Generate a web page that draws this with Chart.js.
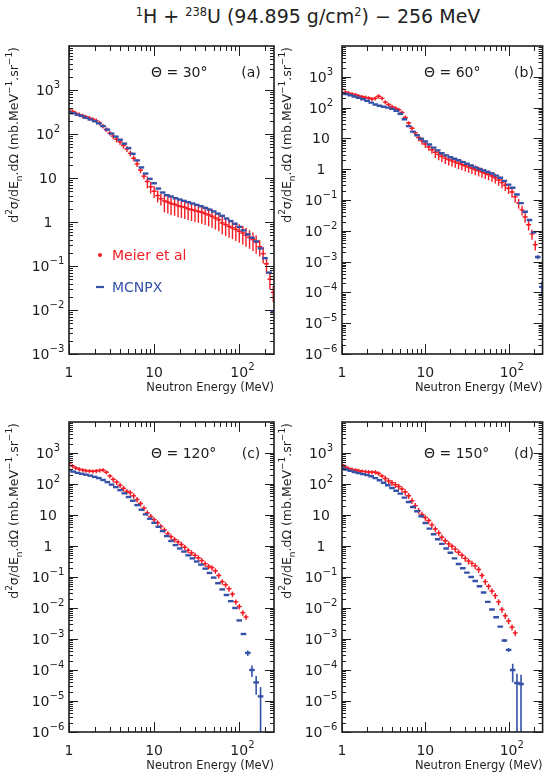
<!DOCTYPE html>
<html>
<head>
<meta charset="utf-8">
<script src="https://cdn.jsdelivr.net/npm/chart.js@4.4.0/dist/chart.umd.min.js"></script>
<style>
    body { margin: 0; background: #fff; width: 549px; height: 776px; position: relative; overflow: hidden; }
    #title { position: absolute; left: 58px; top: 5px; width: 500px; text-align: center;
             font: 19px "DejaVu Sans", sans-serif; color: #222; }
    #title sup { font-size: 60%; vertical-align: 0; position: relative; top: -0.65em; }
    canvas { position: absolute; left: 0; top: 0; }
</style>
</head>
<body>
<div id="title"><sup>1</sup>H + <sup>238</sup>U (94.895 g/cm<sup>2</sup>) &minus; 256 MeV</div>
<canvas id="pa" width="549" height="776"></canvas>
<canvas id="pb" width="549" height="776"></canvas>
<canvas id="pc" width="549" height="776"></canvas>
<canvas id="pd" width="549" height="776"></canvas>
<script>
// Neutron energies (MeV) of the Meier et al points and of the MCNPX bins
const meierE = [1.00, 1.10, 1.20, 1.32, 1.45, 1.58, 1.74, 1.91, 2.09, 2.29, 2.51, 2.75, 3.02, 3.31, 3.63,
    3.98, 4.37, 4.79, 5.25, 5.75, 6.31, 6.92, 7.59, 8.32, 9.12, 10.0, 11.0, 12.0, 13.2, 14.5, 15.8, 17.4,
    19.1, 20.9, 22.9, 25.1, 27.5, 30.2, 33.1, 36.3, 39.8, 43.7, 47.9, 52.5, 57.5, 63.1, 69.2, 75.9, 83.2,
    91.2, 100, 110, 120, 132, 145, 158, 174, 191, 209, 229, 251];
const mcnpxE = [1.00, 1.12, 1.26, 1.41, 1.58, 1.78, 2.00, 2.24, 2.51, 2.82, 3.16, 3.55, 3.98, 4.47, 5.01,
    5.62, 6.31, 7.08, 7.94, 8.91, 10.0, 11.2, 12.6, 14.1, 15.8, 17.8, 20.0, 22.4, 25.1, 28.2, 31.6, 35.5,
    39.8, 44.7, 50.1, 56.2, 63.1, 70.8, 79.4, 89.1, 100, 112, 126, 141, 158, 178, 200, 224, 251];

// (a) theta = 30 deg
const meierA = [355, 324, 295, 275, 257, 245, 229, 214, 200, 178, 151, 126, 105, 89.1, 75.9, 66.1, 55.0,
    45.7, 36.3, 28.2, 20.9, 15.1, 11.0, 8.32, 6.31, 5.01, 3.98, 3.39, 3.02, 2.82, 2.63, 2.51, 2.34, 2.24,
    2.14, 2.00, 1.91, 1.82, 1.74, 1.66, 1.55, 1.45, 1.35, 1.23, 1.12, 0.955, 0.871, 0.794, 0.741, 0.676,
    0.617, 0.562, 0.501, 0.447, 0.398, 0.347, 0.275, 0.191, 0.112, 0.0501, 0.0251];
const meierErrA = [0.12, 0.12, 0.12, 0.12, 0.12, 0.12, 0.12, 0.12, 0.12, 0.12, 0.12, 0.12, 0.12,
    0.15, 0.15, 0.15, 0.15, 0.15, 0.15, 0.15, 0.15, 0.15, 0.15, 0.3, 0.3, 0.3, 0.3, 0.3,
    0.45, 0.45, 0.45, 0.45, 0.45, 0.45, 0.45, 0.45, 0.45, 0.45, 0.45, 0.45, 0.45, 0.45,
    0.45, 0.45, 0.45, 0.45, 0.45, 0.45, 0.45, 0.45, 0.45, 0.45, 0.45, 0.45, 0.45, 0.45,
    0.4, 0.4, 0.4, 0.4, 0.4];
const mcnpxA = [316, 295, 275, 257, 234, 214, 195, 174, 151, 126, 102, 87.1, 74.1, 60.3, 47.9, 35.5,
    25.1, 17.4, 12.6, 9.55, 7.59, 5.75, 4.68, 4.07, 3.80, 3.47, 3.24, 3.02, 2.82, 2.63, 2.45, 2.29, 2.09,
    1.91, 1.74, 1.55, 1.38, 1.20, 1.05, 0.912, 0.776, 0.646, 0.525, 0.437, 0.363, 0.251, 0.151, 0.0708,
    0.00891];

// (b) theta = 60 deg
const meierB = [398, 316, 295, 275, 257, 240, 224, 214, 204, 191, 200, 234, 200, 151, 126, 107, 95.5,
    85.1, 69.2, 47.9, 31.6, 21.4, 15.1, 10.7, 8.32, 6.61, 5.25, 4.27, 3.55, 3.02, 2.63, 2.29, 2.04, 1.86,
    1.70, 1.55, 1.41, 1.29, 1.17, 1.07, 0.977, 0.891, 0.813, 0.741, 0.676, 0.603, 0.525, 0.447, 0.372,
    0.302, 0.240, 0.182, 0.126, 0.0794, 0.0479, 0.0282, 0.0158, 0.00794, 0.00355];
const meierErrB = [0.15, 0.15, 0.15, 0.15, 0.15, 0.15, 0.15, 0.15, 0.15, 0.15, 0.15, 0.15, 0.15,
    0.15, 0.15, 0.15, 0.15, 0.15, 0.15, 0.15, 0.15, 0.15, 0.15, 0.25, 0.25, 0.25, 0.25, 0.25,
    0.35, 0.35, 0.35, 0.35, 0.35, 0.35, 0.35, 0.35, 0.35, 0.35, 0.35, 0.35, 0.35, 0.35, 0.35, 0.35,
    0.35, 0.35, 0.35, 0.35, 0.35, 0.35, 0.35, 0.35, 0.35, 0.35, 0.35, 0.35, 0.35, 0.35, 0.35];
const mcnpxB = [295, 275, 251, 229, 209, 186, 166, 145, 126, 115, 107, 100, 91.2, 79.4, 63.1, 41.7,
    25.1, 16.6, 12.6, 9.77, 7.94, 6.31, 5.01, 4.07, 3.31, 2.82, 2.45, 2.19, 1.95, 1.70, 1.51, 1.32, 1.15,
    1.02, 0.912, 0.813, 0.724, 0.617, 0.525, 0.417, 0.316, 0.251, 0.151, 0.0794, 0.0417, 0.0224,
    0.00891, 0.00141, 0.000151];
const mcnpxErrB = [0, 0, 0, 0, 0, 0, 0, 0, 0, 0, 0, 0, 0, 0, 0, 0, 0, 0, 0, 0, 0, 0, 0, 0, 0,
    0, 0, 0, 0, 0, 0, 0, 0, 0, 0, 0, 0, 0, 0, 0, 0, 0, 0, 0, 0, 0, 0, 0.15, 0.5];

// (c) theta = 120 deg
const meierC = [457, 380, 331, 302, 282, 269, 263, 257, 263, 275, 282, 240, 182, 141, 115, 91.2, 72.4,
    57.5, 52.5, 41.7, 31.6, 23.4, 16.6, 11.7, 8.91, 7.08, 5.62, 4.27, 3.31, 2.51, 2.00, 1.62, 1.35, 1.12,
    0.912, 0.724, 0.603, 0.501, 0.417, 0.339, 0.269, 0.219, 0.200, 0.158, 0.112, 0.0708, 0.0562, 0.0417,
    0.0282, 0.0158, 0.0112, 0.00708, 0.00513];
const meierErrC = [0.15, 0.15, 0.15, 0.15, 0.15, 0.15, 0.15, 0.15, 0.15, 0.15, 0.15, 0.15, 0.15,
    0.2, 0.2, 0.2, 0.2, 0.2, 0.2, 0.2, 0.2, 0.2, 0.2, 0.2, 0.2, 0.2, 0.2, 0.2, 0.2, 0.2, 0.2, 0.2, 0.2,
    0.2, 0.2, 0.2, 0.2, 0.2, 0.2, 0.2, 0.2, 0.2, 0.2, 0.2, 0.2, 0.2, 0.2, 0.2, 0.2, 0.2, 0.2, 0.2, 0.2];
const mcnpxC = [282, 251, 229, 214, 200, 186, 170, 155, 135, 115, 95.5, 79.4, 63.1, 50.1, 38.0, 28.8,
    20.9, 14.8, 10.5, 7.59, 5.62, 4.17, 3.02, 2.09, 1.45, 1.07, 0.832, 0.661, 0.501, 0.398, 0.316, 0.251,
    0.186, 0.135, 0.0955, 0.0631, 0.0398, 0.0263, 0.0166, 0.0100, 0.00398, 0.00145, 0.000355, 0.0001,
    0.0000398, 0.0000141, null, null, null];
const mcnpxErrC = [0, 0, 0, 0, 0, 0, 0, 0, 0, 0, 0, 0, 0, 0, 0, 0, 0, 0, 0, 0, 0, 0, 0, 0, 0,
    0, 0, 0, 0, 0, 0, 0, 0, 0, 0, 0, 0, 0, 0, 0, 0, 0, 0.2, 0.4, 0.6, 0.99, 0, 0, 0];

// (d) theta = 150 deg
const meierD = [417, 355, 316, 295, 282, 269, 257, 251, 245, 240, 240, 219, 182, 151, 126, 110, 95.5,
    83.2, 69.2, 55.0, 41.7, 28.8, 20.0, 13.8, 10.5, 8.32, 6.61, 4.79, 3.55, 2.63, 1.91, 1.48, 1.17, 0.977,
    0.794, 0.631, 0.501, 0.398, 0.324, 0.275, 0.229, 0.174, 0.112, 0.0708, 0.0501, 0.0355, 0.0251, 0.0158,
    0.00891, 0.00562, 0.00380, 0.00240, 0.00158];
const meierErrD = [0.15, 0.15, 0.15, 0.15, 0.15, 0.15, 0.15, 0.15, 0.15, 0.15, 0.15, 0.15, 0.15,
    0.22, 0.22, 0.22, 0.22, 0.22, 0.22, 0.22, 0.22, 0.22, 0.22, 0.22, 0.22, 0.22, 0.22, 0.22, 0.22,
    0.22, 0.22, 0.22, 0.22, 0.22, 0.22, 0.22, 0.22, 0.22, 0.22, 0.22, 0.22, 0.22, 0.22, 0.22, 0.22,
    0.22, 0.22, 0.22, 0.22, 0.22, 0.22, 0.22, 0.22];
const mcnpxD = [331, 295, 269, 245, 224, 209, 195, 178, 155, 132, 110, 91.2, 74.1, 60.3, 49.0, 36.3,
    26.3, 18.2, 13.2, 9.12, 5.50, 3.63, 2.40, 1.66, 1.17, 0.832, 0.603, 0.398, 0.263, 0.191, 0.138, 0.100,
    0.0741, 0.0501, 0.0316, 0.0158, 0.00891, 0.00501, 0.00251, 0.000891, 0.000447, 0.0001, 0.000038,
    0.0000355, null, null, null, null, null];
const mcnpxErrD = [0, 0, 0, 0, 0, 0, 0, 0, 0, 0, 0, 0, 0, 0, 0, 0, 0, 0, 0, 0, 0, 0, 0, 0, 0,
    0, 0, 0, 0, 0, 0, 0, 0, 0, 0, 0, 0, 0, 0, 0.1, 0.15, 0.6, 0.99, 0.99, 0, 0, 0, 0, 0];

// Tick labels
const xTickValues = [1, 10, 100];
const xTickLabels = ['1', '10', '10^{2}'];
const yTickValuesA = [1e-3, 1e-2, 1e-1, 1, 10, 100, 1000];
const yTickLabelsA = ['10^{−3}', '10^{−2}', '10^{−1}', '1', '10', '10^{2}', '10^{3}'];
const yTickValuesB = [1e-6, 1e-5, 1e-4, 1e-3, 1e-2, 1e-1, 1, 10, 100, 1000];
const yTickLabelsB = ['10^{−6}', '10^{−5}', '10^{−4}', '10^{−3}', '10^{−2}', '10^{−1}', '1', '10', '10^{2}', '10^{3}'];

const RED = '#f41c24';
const BLUE = '#3552a8';
const INK = '#1e1e1e';
const FONT = '"DejaVu Sans", sans-serif';
const Y_TITLE = 'd^{2}σ/dE_{n}.dΩ (mb.MeV^{−1}.sr^{−1})';
const X_TITLE = 'Neutron Energy (MeV)';

// text with ^{..} superscripts and _{..} subscripts; y is the baseline
function richText(ctx, str, x, y, size, align) {
    const parts = [];
    const re = /([_^])\{([^}]*)\}/g;
    let last = 0, m;
    while ((m = re.exec(str))) {
        if (m.index > last) parts.push({ t: str.slice(last, m.index), k: 0 });
        parts.push({ t: m[2], k: m[1] === '^' ? 1 : -1 });
        last = re.lastIndex;
    }
    if (last < str.length) parts.push({ t: str.slice(last), k: 0 });
    const small = size * 0.72;
    let w = 0;
    parts.forEach(p => {
        ctx.font = (p.k ? small : size) + 'px ' + FONT;
        p.w = ctx.measureText(p.t).width;
        w += p.w;
    });
    let cx = x;
    if (align === 'center') cx = x - w / 2;
    else if (align === 'right') cx = x - w;
    else if (align === 'base') cx = x - parts[0].w / 2;
    ctx.textAlign = 'left';
    ctx.textBaseline = 'alphabetic';
    parts.forEach(p => {
        ctx.font = (p.k ? small : size) + 'px ' + FONT;
        const dy = p.k === 1 ? -size * 0.5 : p.k === -1 ? size * 0.28 : 0;
        ctx.fillText(p.t, cx, y + dy);
        cx += p.w;
    });
}

function decades(min, max) {
    const out = [];
    for (let k = Math.round(Math.log10(min)); Math.pow(10, k) < max; k++) out.push(Math.pow(10, k));
    return out;
}

// error bars drawn just before their own dataset, so the MCNPX dashes sit on top of the red bars
const errorBars = {
    id: 'errorBars',
    beforeDatasetDraw(chart, args) {
        const ds = chart.data.datasets[args.index];
        const { ctx, chartArea: ca } = chart;
        const y = chart.scales.y;
        ctx.save();
        ctx.beginPath();
        ctx.rect(ca.left, ca.top, ca.right - ca.left, ca.bottom - ca.top);
        ctx.clip();
        ctx.strokeStyle = ds.borderColor;
        ctx.lineWidth = ds.errWidth;
        args.meta.data.forEach((pt, i) => {
            const d = ds.data[i];
            if (d.err) {
                const top = y.getPixelForValue(d.y * (1 + d.err));
                const lo = d.y * (1 - d.err);
                const bot = lo > 0 ? Math.min(y.getPixelForValue(lo), ca.bottom) : ca.bottom;
                ctx.beginPath();
                ctx.moveTo(pt.x, top);
                ctx.lineTo(pt.x, bot);
                ctx.stroke();
            }
            if (ds.capHalf) {
                ctx.beginPath();
                ctx.moveTo(pt.x - ds.capHalf, pt.y);
                ctx.lineTo(pt.x + ds.capHalf, pt.y);
                ctx.stroke();
            }
        });
        ctx.restore();
    }
};

// frame with inward ticks on four sides, tick labels, titles and annotations
const frame = {
    id: 'frame',
    afterDraw(chart, args, o) {
        const { ctx, chartArea: ca } = chart;
        const { x, y } = chart.scales;
        ctx.save();
        ctx.strokeStyle = INK;
        ctx.fillStyle = INK;
        ctx.lineWidth = 1;

        decades(x.min, x.max).forEach(d => {
            for (let m = 1; m <= 9; m++) {
                const v = d * m;
                if (v >= x.max) break;
                const px = Math.round(x.getPixelForValue(v)) + 0.5;
                const len = m === 1 ? 10 : 5;
                ctx.beginPath();
                ctx.moveTo(px, ca.bottom); ctx.lineTo(px, ca.bottom - len);
                ctx.moveTo(px, ca.top); ctx.lineTo(px, ca.top + len);
                ctx.stroke();
            }
        });
        decades(y.min, y.max).forEach(d => {
            for (let m = 1; m <= 9; m++) {
                const v = d * m;
                if (v >= y.max) break;
                const py = Math.round(y.getPixelForValue(v)) + 0.5;
                const len = m === 1 ? 9 : 4;
                ctx.beginPath();
                ctx.moveTo(ca.left, py); ctx.lineTo(ca.left + len, py);
                ctx.moveTo(ca.right, py); ctx.lineTo(ca.right - len, py);
                ctx.stroke();
            }
        });
        ctx.lineWidth = 1.6;
        ctx.strokeRect(ca.left, ca.top, ca.right - ca.left, ca.bottom - ca.top);

        o.yTicks.forEach((v, i) => {
            richText(ctx, o.yLabels[i], ca.left - 21, y.getPixelForValue(v) + 5, 14, 'center');
        });
        xTickValues.forEach((v, i) => {
            richText(ctx, xTickLabels[i], x.getPixelForValue(v), ca.bottom + 23, 14, 'base');
        });
        richText(ctx, X_TITLE, ca.right, ca.bottom + 37, 11.5, 'right');

        ctx.save();
        ctx.translate(ca.left - 55, ca.top + 1);
        ctx.rotate(-Math.PI / 2);
        richText(ctx, Y_TITLE, 0, 4, 12.5, 'right');
        ctx.restore();

        richText(ctx, o.theta, ca.left + 82, o.textY, 14, 'left');
        richText(ctx, o.tag, ca.left + 182, o.textY, 14, 'center');

        if (o.legend) {
            ctx.fillStyle = RED;
            ctx.beginPath();
            ctx.arc(ca.left + 31, ca.top + 209, 2, 0, Math.PI * 2);
            ctx.fill();
            richText(ctx, 'Meier et al', ca.left + 43, ca.top + 214, 14, 'left');
            ctx.strokeStyle = BLUE;
            ctx.lineWidth = 2.2;
            ctx.beginPath();
            ctx.moveTo(ca.left + 27, ca.top + 241);
            ctx.lineTo(ca.left + 35, ca.top + 241);
            ctx.stroke();
            ctx.fillStyle = BLUE;
            richText(ctx, 'MCNPX', ca.left + 43, ca.top + 246, 14, 'left');
        }
        ctx.restore();
    }
};

function points(energies, values, errors) {
    const out = [];
    energies.forEach((e, i) => {
        if (values[i] == null || i >= values.length) return;
        out.push({ x: e, y: values[i], err: errors ? errors[i] : 0 });
    });
    return out;
}

const panels = [
    { id: 'pa', box: [69, 46, 274, 354], yMin: 1e-3, yTicks: yTickValuesA, yLabels: yTickLabelsA,
      meier: meierA, meierErr: meierErrA, mcnpx: mcnpxA, mcnpxErr: null,
      theta: 'Θ = 30°', tag: '(a)', textY: 77, legend: true },
    { id: 'pb', box: [342, 46, 546, 354], yMin: 1e-6, yTicks: yTickValuesB, yLabels: yTickLabelsB,
      meier: meierB, meierErr: meierErrB, mcnpx: mcnpxB, mcnpxErr: mcnpxErrB,
      theta: 'Θ = 60°', tag: '(b)', textY: 77, legend: false },
    { id: 'pc', box: [69, 422, 274, 732], yMin: 1e-6, yTicks: yTickValuesB, yLabels: yTickLabelsB,
      meier: meierC, meierErr: meierErrC, mcnpx: mcnpxC, mcnpxErr: mcnpxErrC,
      theta: 'Θ = 120°', tag: '(c)', textY: 458, legend: false },
    { id: 'pd', box: [342, 422, 546, 732], yMin: 1e-6, yTicks: yTickValuesB, yLabels: yTickLabelsB,
      meier: meierD, meierErr: meierErrD, mcnpx: mcnpxD, mcnpxErr: mcnpxErrD,
      theta: 'Θ = 150°', tag: '(d)', textY: 458, legend: false }
];

panels.forEach(p => {
    const [l, t, r, b] = p.box;
    new Chart(document.getElementById(p.id), {
        type: 'scatter',
        data: {
            datasets: [
                {
                    label: 'MCNPX',
                    data: points(mcnpxE, p.mcnpx, p.mcnpxErr),
                    pointStyle: 'line',
                    pointRadius: 2.8,
                    borderColor: BLUE,
                    backgroundColor: BLUE,
                    pointBorderWidth: 2.4,
                    errWidth: 1.6,
                    capHalf: 0
                },
                {
                    label: 'Meier et al',
                    data: points(meierE, p.meier, p.meierErr),
                    pointStyle: 'rect',
                    pointRadius: 1.4,
                    borderColor: RED,
                    backgroundColor: RED,
                    pointBorderWidth: 0,
                    errWidth: 1.4,
                    capHalf: 2.5
                }
            ]
        },
        options: {
            responsive: false,
            animation: false,
            events: [],
            layout: { padding: { left: l, top: t, right: 549 - r, bottom: 776 - b } },
            plugins: {
                legend: { display: false },
                tooltip: { enabled: false },
                frame: p
            },
            scales: {
                x: { type: 'logarithmic', display: false, min: 1, max: 256 },
                y: { type: 'logarithmic', display: false, min: p.yMin, max: 1e4 }
            }
        },
        plugins: [errorBars, frame]
    });
});
</script>
</body>
</html>
